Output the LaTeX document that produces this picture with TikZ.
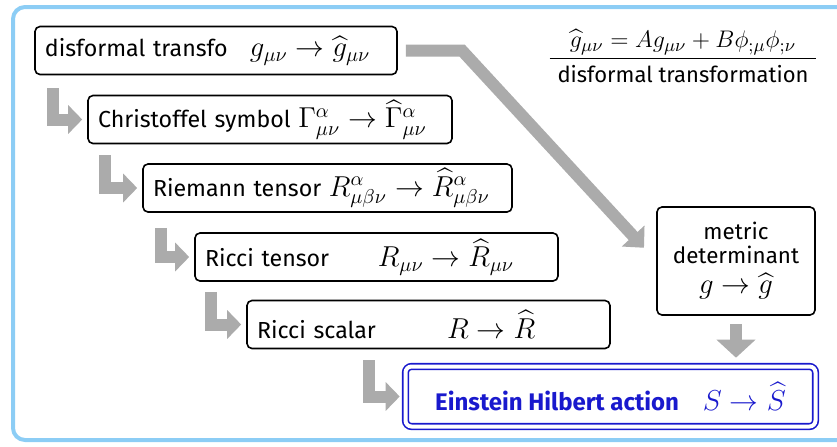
\documentclass[tikz,border=0pt]{standalone}
\usepackage{amsmath,amssymb}
\usepackage[no-math]{fontspec}
\setmainfont{Fira Sans}
\usetikzlibrary{arrows.meta,calc}

\definecolor{framecol}{RGB}{140,205,245}
\definecolor{flowcol}{RGB}{171,171,171}
\definecolor{actcol}{RGB}{25,25,205}

% larger math inside the boxes
\newcommand{\bm}[1]{{\fontsize{14}{16}\selectfont$#1$}}

\begin{document}
\begin{tikzpicture}[x=0.5pt,y=-0.5pt,
  box/.style={draw,line width=0.8pt,rounded corners=2.5pt,inner xsep=5pt,inner ysep=0pt,
    minimum height=24pt,align=left,font=\fontsize{11.6}{13}\selectfont},
  actbox/.style={draw=actcol,double,double distance=2pt,line width=0.8pt,rounded corners=3pt,
    minimum width=205pt,minimum height=30pt,text=actcol,font=\fontsize{12}{14}\selectfont},
  flow/.style={draw=flowcol,line width=6pt,-{Triangle[width=14pt,length=7pt]}}]

\clip (0,0) rectangle (837,446);

% --- frame -------------------------------------------------------------
\draw[framecol,line width=2pt,rounded corners=6pt] (13,7) rectangle (860,440);

% --- chain of boxes ----------------------------------------------------
\node[box,text width=171pt] (dis) at (216,50.5)
  {\makebox[102.5pt][l]{disformal transfo}\bm{g_{\mu\nu}\to\widehat{g}_{\mu\nu}}};
\node[box,text width=172pt] (chr) at (270,119.5)
  {Christoffel symbol \bm{\Gamma^{\alpha}_{\mu\nu}\to\widehat{\Gamma}^{\alpha}_{\mu\nu}}};
\node[box,text width=174.5pt] (rie) at (327.5,188)
  {Riemann tensor \bm{R^{\alpha}_{\mu\beta\nu}\to\widehat{R}^{\alpha}_{\mu\beta\nu}}};
\node[box,text width=171.5pt] (rte) at (376.5,257)
  {\makebox[86.5pt][l]{Ricci tensor}\bm{R_{\mu\nu}\to\widehat{R}_{\mu\nu}}};
\node[box,text width=171.5pt] (rsc) at (428.5,324.5)
  {\makebox[95pt][l]{Ricci scalar}\bm{R\to\widehat{R}}};

\node[actbox] (ehb) at (610.5,396.5)
  {\textbf{Einstein Hilbert action}\quad\bm{S\to\widehat{S}}};

\node[box,align=center,minimum width=79pt,minimum height=54pt,font=\fontsize{11.2}{12}\selectfont] (met) at (736,261)
  {metric\\determinant\\[3pt]\bm{g\to\widehat{g}}};

% --- definition ----------------------------------------------------------
\node[font=\fontsize{11}{13}\selectfont,inner sep=0pt] (def) at (683,60)
  {\begin{tabular}{@{\hspace{4pt}}c@{\hspace{4pt}}}
   {\fontsize{12.5}{14}\selectfont$\widehat{g}_{\mu\nu}=Ag_{\mu\nu}+B\phi_{;\mu}\phi_{;\nu}$}\\[1pt]\hline
   \rule{0pt}{12pt}disformal transformation
   \end{tabular}};

% --- flow arrows ---------------------------------------------------------
\draw[flow,shorten >=2.5pt] ($(dis.south west)+(19,13)$) |- (chr.west);
\draw[flow,shorten >=2.5pt] ($(chr.south west)+(18,11)$) |- (rie.west);
\draw[flow,shorten >=2.5pt] ($(rie.south west)+(19,15)$) |- (rte.west);
\draw[flow,shorten >=2.5pt] ($(rte.south west)+(17,10)$) |- (rsc.west);
\draw[flow,shorten >=2.5pt] ($(rsc.south west)+(123,11)$) |- (ehb.west);

\coordinate (bend) at (462,50.5);
\draw[flow,-{Triangle[width=15pt,length=8pt]},shorten <=4pt,shorten >=9pt] (dis.east) -- (bend) -- (met.west);
\draw[flow,-{Triangle[width=19pt,length=9pt]},shorten <=4pt,shorten >=4pt] (met.south) -- (ehb.north -| met.south);
\end{tikzpicture}
\end{document}
